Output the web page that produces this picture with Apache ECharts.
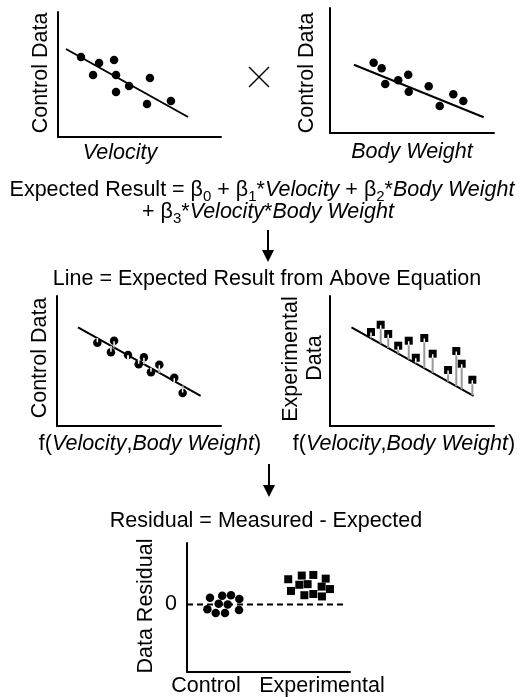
<!DOCTYPE html>
<html>
<head>
<meta charset="utf-8">
<script src="https://cdn.jsdelivr.net/npm/echarts@6/dist/echarts.min.js"></script>
<style>
  html, body { margin: 0; padding: 0; background: #fff; }
  #main { width: 524px; height: 697px; }
</style>
</head>
<body>
<div id="main"></div>
<script>
// panel 1: control data vs velocity
const velX = [14.1, 25.2, 34.4, 21.5, 35.6, 43.6, 56.4, 35.6, 54.6, 69.3];
const velY = [64, 59.2, 61.6, 49.6, 49.6, 40.8, 47.2, 36, 26.4, 28.8];
const velFit = [[4.9, 70.4], [79.8, 16]];

// panel 2: control data vs body weight
const bwX = [26.6, 31.5, 33.7, 41.6, 47.7, 48.0, 60.2, 66.9, 75.2, 81.3];
const bwY = [56.2, 51.8, 39.2, 42.2, 46.6, 33.0, 37.4, 21.6, 31.0, 25.6];
const bwFit = [[14.6, 54.6], [93.7, 12.6]];

// panel 3: control data vs f(velocity, body weight)
const ctrlX = [24.6, 34.8, 32.9, 43.3, 49.8, 53.0, 57.3, 62.4, 71.5, 76.6];
const ctrlY = [64.1, 65.6, 56.7, 54.6, 47.5, 52.8, 41.3, 47.2, 37.2, 25.4];
const ctrlOnLine = [67.6, 60.4, 61.7, 54.4, 49.8, 47.5, 44.5, 40.9, 34.5, 31.1];
const ctrlFit = [[12.8, 75.9], [87.6, 23.1]];

// panel 4: experimental data vs f(velocity, body weight)
const expX = [25.0, 30.9, 35.5, 41.6, 48.0, 52.3, 57.5, 62.6, 72.0, 77.0, 80.3, 86.8];
const expY = [72.3, 77.9, 70.8, 61.8, 65.6, 52.5, 67.7, 55.6, 43.1, 57.7, 47.9, 35.6];
const expOnLine = [67.5, 63.3, 60.0, 55.7, 51.1, 48.1, 44.4, 40.8, 34.1, 30.6, 28.2, 23.6];
const expFit = [[13.1, 75.9], [87.5, 23.1]];

// panel 5: residuals
const resCtrlX = [14.1, 21.6, 27.0, 32.1, 12.5, 19.4, 17.6, 23.3, 25.0, 31.9];
const resCtrlY = [0.11, 0.14, 0.15, 0.09, -0.08, 0.01, -0.14, -0.14, 0.0, -0.09];
const resExpX = [62.1, 70.4, 77.5, 85.1, 68.9, 74.0, 63.8, 72.0, 77.5, 82.6, 87.7, 82.8];
const resExpY = [0.41, 0.47, 0.48, 0.42, 0.32, 0.33, 0.22, 0.15, 0.17, 0.29, 0.25, 0.13];
const zeroLine = [[0, 0], [97, 0]];
const residualTicks = [0];

const FONT = '"Liberation Sans", Arial, sans-serif';
const f21 = '21.5px ' + FONT;
const i21 = 'italic 21.5px ' + FONT;

var chartDom = document.getElementById("main");
var myChart = echarts.init(chartDom);
var option;

const pairs = (xs, ys) => xs.map((x, i) => [x, ys[i]]);
const triples = (xs, ys, bs) => xs.map((x, i) => [x, ys[i], bs[i]]);

const axisBase = {
  type: "value",
  axisLine: { show: true, onZero: false, lineStyle: { color: "#000", width: 2 } },
  axisTick: { show: false },
  axisLabel: { show: false },
  splitLine: { show: false },
};

function stemRenderer(stemColor) {
  return function (params, api) {
    const p = api.coord([api.value(0), api.value(1)]);
    const b = api.coord([api.value(0), api.value(2)]);
    const dir = b[1] > p[1] ? 1 : -1;
    return {
      type: "group",
      children: [
        {
          type: "line",
          shape: { x1: b[0], y1: b[1], x2: p[0], y2: p[1] + dir * 4 },
          style: { stroke: stemColor, lineWidth: 2 },
        },
        {
          type: "line",
          shape: { x1: p[0], y1: p[1] + dir * 0.5, x2: p[0], y2: p[1] + dir * 4.5 },
          style: { stroke: "#fff", lineWidth: 1.5 },
        },
      ],
    };
  };
}

function fitLine(data, idx) {
  return {
    type: "line",
    xAxisIndex: idx,
    yAxisIndex: idx,
    data: data,
    showSymbol: false,
    lineStyle: { color: "#000", width: 2 },
    z: 1,
  };
}

function dots(data, idx, symbol) {
  return {
    type: "scatter",
    xAxisIndex: idx,
    yAxisIndex: idx,
    data: data,
    symbol: symbol,
    symbolSize: symbol === "rect" ? 8 : 8.5,
    itemStyle: { color: "#000", opacity: 1 },
    z: 2,
  };
}

function label(text, x, y, rotated) {
  return {
    type: "text",
    x: x,
    y: y,
    rotation: rotated ? Math.PI / 2 : 0,
    style: {
      text: text,
      font: f21,
      fill: "#000",
      align: "center",
      verticalAlign: "middle",
      rich: {
        i: { font: i21, fill: "#000", lineHeight: 28 },
        n: { font: f21, fill: "#000", lineHeight: 28 },
        s: { font: "15px " + FONT, fill: "#000", lineHeight: 15, verticalAlign: "bottom" },
      },
    },
  };
}

function arrow(x, y1, y2) {
  return {
    type: "group",
    children: [
      { type: "line", shape: { x1: x, y1: y1, x2: x, y2: y2 - 10 }, style: { stroke: "#000", lineWidth: 2 } },
      { type: "polygon", shape: { points: [[x - 6, y2 - 12], [x + 6, y2 - 12], [x, y2]] }, style: { fill: "#000" } },
    ],
  };
}

option = {
  animation: false,
  backgroundColor: "#fff",
  grid: [
    { left: 58, top: 12, width: 163, height: 125 },
    { left: 330, top: 8, width: 164, height: 125 },
    { left: 57, top: 296, width: 164, height: 130 },
    { left: 330, top: 296, width: 164, height: 130 },
    { left: 187, top: 543, width: 163, height: 129 },
  ],
  xAxis: [0, 1, 2, 3, 4].map((i) => Object.assign({}, axisBase, { gridIndex: i, min: 0, max: 100 })),
  yAxis: [
    Object.assign({}, axisBase, { gridIndex: 0, min: 0, max: 100 }),
    Object.assign({}, axisBase, { gridIndex: 1, min: 0, max: 100 }),
    Object.assign({}, axisBase, { gridIndex: 2, min: 0, max: 100 }),
    Object.assign({}, axisBase, { gridIndex: 3, min: 0, max: 100 }),
    Object.assign({}, axisBase, {
      gridIndex: 4,
      min: -1.1,
      max: 1,
      axisLabel: {
        show: true,
        customValues: residualTicks,
        color: "#000",
        fontSize: 21.5,
        fontFamily: FONT,
        margin: 10,
      },
    }),
  ],
  graphic: [
    label("Control Data", 41, 73, true),
    label("{i|Velocity}", 120, 153),
    label("Control Data", 307, 73, true),
    label("{i|Body Weight}", 412, 152),
    { type: "line", shape: { x1: 249, y1: 67, x2: 269, y2: 87 }, style: { stroke: "#000", lineWidth: 1.5 } },
    { type: "line", shape: { x1: 269, y1: 67, x2: 249, y2: 87 }, style: { stroke: "#000", lineWidth: 1.5 } },
    label("{n|Expected Result = β}{s|0}{n| + β}{s|1}{n|*}{i|Velocity}{n| + β}{s|2}{n|*}{i|Body Weight}", 262, 190),
    label("{n|+ β}{s|3}{n|*}{i|Velocity}{n|*}{i|Body Weight}", 268, 212),
    arrow(268, 230, 262),
    label("Line = Expected Result from Above Equation", 267, 279),
    label("Control Data", 40, 358, true),
    label("{n|f(}{i|Velocity}{n|,}{i|Body Weight}{n|)}", 150, 444),
    label("Experimental", 291, 359, true),
    label("Data", 315, 358, true),
    label("{n|f(}{i|Velocity}{n|,}{i|Body Weight}{n|)}", 404, 444),
    arrow(269, 464, 497),
    label("Residual = Measured - Expected", 266, 521),
    label("Data Residual", 146, 606, true),
    label("Control", 206, 686),
    label("Experimental", 322, 686),
  ],
  series: [
    dots(pairs(velX, velY), 0, "circle"),
    fitLine(velFit, 0),
    dots(pairs(bwX, bwY), 1, "circle"),
    fitLine(bwFit, 1),
    dots(pairs(ctrlX, ctrlY), 2, "circle"),
    fitLine(ctrlFit, 2),
    {
      type: "custom",
      xAxisIndex: 2,
      yAxisIndex: 2,
      data: triples(ctrlX, ctrlY, ctrlOnLine),
      renderItem: stemRenderer("#bbb"),
      z: 3,
    },
    dots(pairs(expX, expY), 3, "rect"),
    fitLine(expFit, 3),
    {
      type: "custom",
      xAxisIndex: 3,
      yAxisIndex: 3,
      data: triples(expX, expY, expOnLine),
      renderItem: stemRenderer("#999"),
      z: 3,
    },
    dots(pairs(resCtrlX, resCtrlY), 4, "circle"),
    dots(pairs(resExpX, resExpY), 4, "rect"),
    {
      type: "line",
      xAxisIndex: 4,
      yAxisIndex: 4,
      data: zeroLine,
      showSymbol: false,
      lineStyle: { color: "#000", width: 2, type: [6, 4] },
      z: 1,
    },
  ],
};

option && myChart.setOption(option);
</script>
</body>
</html>
